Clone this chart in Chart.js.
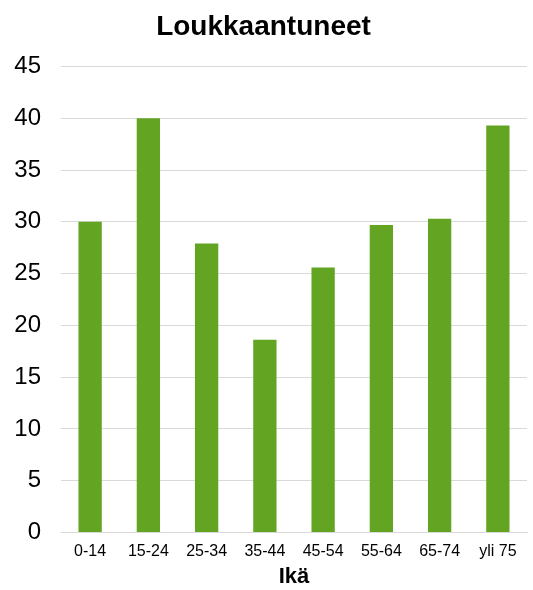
<!DOCTYPE html>
<html>
<head>
<meta charset="utf-8">
<script src="https://cdn.jsdelivr.net/npm/chart.js@4"></script>
<style>
  html, body { margin: 0; padding: 0; background: #fff; }
  #wrap { width: 533px; height: 590px; }
</style>
</head>
<body>
<div id="wrap"><canvas id="graph"></canvas></div>
<script>
const categories = ['0-14', '15-24', '25-34', '35-44', '45-54', '55-64', '65-74', 'yli 75'];
const injured = [30, 40, 27.9, 18.6, 25.6, 29.7, 30.3, 39.3];
const yTicks = [0, 5, 10, 15, 20, 25, 30, 35, 40, 45];

const canva = document.getElementById('graph');

const data = {
    labels: categories,
    datasets: [{
      label: 'Loukkaantuneet',
      backgroundColor: '#63a523',
      borderWidth: 0,
      barPercentage: 0.4,
      categoryPercentage: 1.0,
      data: injured,
    }]
};

const config = {
    type: 'bar',
    data,
    options: {
      responsive: true,
      maintainAspectRatio: false,
      animation: false,
      layout: { padding: { left: 0, right: 6, top: 0, bottom: 0 } },
      plugins: {
        legend: { display: false },
        tooltip: { enabled: false },
        title: {
          display: true,
          text: 'Loukkaantuneet',
          color: '#000',
          font: { family: 'Liberation Sans', size: 28, weight: 'bold' },
          padding: { top: 10, bottom: 23 }
        }
      },
      scales: {
        x: {
          grid: { display: false },
          border: { display: true, color: '#d9d9d9', width: 1 },
          ticks: {
            color: '#000',
            font: { family: 'Liberation Sans', size: 16 },
            maxRotation: 0,
            padding: 2
          },
          title: {
            display: true,
            text: 'Ikä',
            color: '#000',
            font: { family: 'Liberation Sans', size: 22, weight: 'bold' },
            padding: { top: 0, bottom: 0 }
          }
        },
        y: {
          min: 0,
          max: 45,
          afterBuildTicks: (axis) => { axis.ticks = yTicks.map(v => ({ value: v })); },
          afterFit: (axis) => { axis.width = 61; },
          grid: { color: '#d9d9d9', lineWidth: 1, drawTicks: false },
          border: { display: false },
          ticks: {
            color: '#000',
            font: { family: 'Liberation Sans', size: 24 },
            padding: 20
          }
        }
      }
    }
};

var chart = new Chart(canva, config);
</script>
</body>
</html>
